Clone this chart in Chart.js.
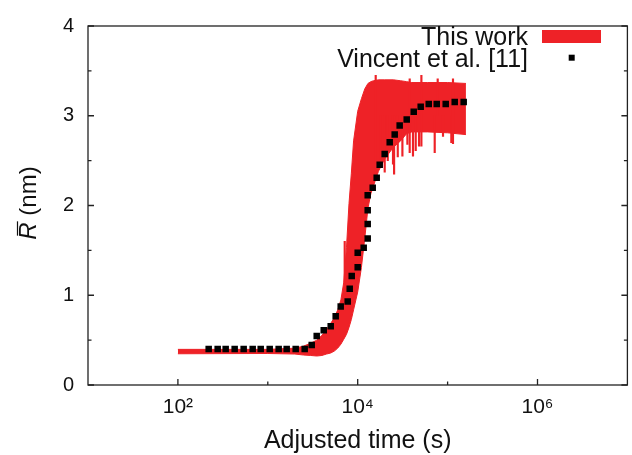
<!DOCTYPE html>
<html><head><meta charset="utf-8">
<script src="https://cdn.jsdelivr.net/npm/chart.js@4.4.0/dist/chart.umd.min.js"></script>
<style>html,body{margin:0;padding:0;background:#fff;} #wrap{width:632px;height:455px;position:relative;}</style>
</head><body><div id="wrap"><canvas id="c" width="632" height="455"></canvas></div>
<script>
// ---- Data ----
const seriesNames = ['This work', 'Vincent et al. [11]'];

// "This work": envelope of the noisy simulated curve
const bandTime  = [100, 1000, 2000, 2500, 3000, 3500, 4000, 4500, 5000, 5500, 6000, 6500, 7000, 7500, 8000, 8500, 9000, 10000, 11000, 12000, 13000, 14000, 15000, 17000, 20000, 25000, 30000, 35000, 40000, 60000, 100000, 160000];
const bandUpper = [0.397, 0.397, 0.41, 0.433, 0.466, 0.499, 0.553, 0.619, 0.685, 0.751, 0.838, 0.948, 1.145, 1.529, 2.02, 2.36, 2.72, 3.05, 3.19, 3.30, 3.36, 3.38, 3.39, 3.40, 3.40, 3.40, 3.39, 3.38, 3.37, 3.37, 3.37, 3.36];
const bandLower = [0.348, 0.351, 0.345, 0.334, 0.329, 0.323, 0.329, 0.345, 0.356, 0.378, 0.411, 0.455, 0.51, 0.564, 0.641, 0.73, 0.838, 1.036, 1.31, 1.64, 1.97, 2.13, 2.22, 2.38, 2.52, 2.65, 2.72, 2.80, 2.82, 2.82, 2.81, 2.79];

// "This work": isolated noise spikes
const spikeTime = [7170, 15860, 17890, 19970, 21600, 24700, 25400, 27900, 31420, 35700, 37880, 41200, 44190, 48100, 51100, 71880, 77600, 88900, 110000, 114800];
const spikeLow  = [1.0, 2.35, 2.46, 2.37, 2.50, 2.46, 2.35, 2.54, 2.55, 2.68, 2.59, 2.55, 2.61, 2.66, 2.66, 2.59, 3.0, 2.77, 2.70, 2.69];
const spikeHigh = [1.60, 3.45, 3.0, 3.0, 3.0, 3.0, 3.0, 3.0, 3.0, 3.0, 3.41, 3.0, 3.0, 3.0, 3.45, 3.0, 3.41, 3.0, 3.0, 3.41];

// Vincent et al. [11]
const vincentTime = [220, 277, 340, 428, 539, 679, 834, 1050, 1321, 1622, 2043, 2572, 3080, 3500, 4190, 5010, 5690, 6470, 7740, 8150, 8580, 10000, 10000, 11660, 12920, 12920, 12920, 12920, 14690, 16270, 17570, 19960, 22700, 25800, 29300, 35100, 42000, 50200, 61700, 75700, 95300, 120000, 151000];
const vincentR = [0.40, 0.40, 0.40, 0.40, 0.40, 0.40, 0.40, 0.40, 0.40, 0.40, 0.40, 0.40, 0.447, 0.546, 0.611, 0.655, 0.765, 0.875, 0.929, 1.072, 1.214, 1.313, 1.474, 1.529, 1.631, 1.795, 1.948, 2.113, 2.197, 2.310, 2.453, 2.573, 2.705, 2.792, 2.891, 2.957, 3.044, 3.099, 3.132, 3.132, 3.132, 3.154, 3.154];

// Axes
const xTickValues = [100, 10000, 1000000];
const xTickLabels = ['10\u00B2', '10\u2074', '10\u2076'];
const xMinorTicks = [1000, 100000];
const yTickValues = [0, 1, 2, 3, 4];
const yMinorTicks = [0.5, 1.5, 2.5, 3.5];
const xTitle = 'Adjusted time (s)';
const yTitleSymbol = 'R';
const yTitleUnit = ' (nm)';

// ---- Styling ----
const RED = '#ee2227';
const INK = '#111111';
const FONT = '"Liberation Sans", Arial, Helvetica, sans-serif';

const framePlugin = {
  id: 'frame',
  afterDatasetsDraw(chart) {
    const {ctx, chartArea: a, scales: {x, y}} = chart;
    ctx.save();
    ctx.strokeStyle = '#222';
    ctx.lineWidth = 1.3;
    ctx.strokeRect(a.left, a.top, a.right - a.left, a.bottom - a.top);
    ctx.beginPath();
    yTickValues.forEach(v => {
      const p = y.getPixelForValue(v);
      ctx.moveTo(a.left, p); ctx.lineTo(a.left + 6, p);
      ctx.moveTo(a.right, p); ctx.lineTo(a.right - 6, p);
    });
    yMinorTicks.forEach(v => {
      const p = y.getPixelForValue(v);
      ctx.moveTo(a.left, p); ctx.lineTo(a.left + 3.5, p);
      ctx.moveTo(a.right, p); ctx.lineTo(a.right - 3.5, p);
    });
    xTickValues.forEach(v => {
      const p = x.getPixelForValue(v);
      ctx.moveTo(p, a.bottom); ctx.lineTo(p, a.bottom - 6);
    });
    xMinorTicks.forEach(v => {
      const p = x.getPixelForValue(v);
      ctx.moveTo(p, a.bottom); ctx.lineTo(p, a.bottom - 3.5);
    });
    ctx.stroke();
    ctx.restore();
  }
};

const legendPlugin = {
  id: 'gpLegend',
  afterDraw(chart) {
    const ctx = chart.ctx;
    ctx.save();
    ctx.font = '25px ' + FONT;
    ctx.fillStyle = INK;
    ctx.textAlign = 'right';
    ctx.textBaseline = 'alphabetic';
    ctx.fillText(seriesNames[0], 528, 45);
    ctx.fillText(seriesNames[1], 528, 66.7);
    ctx.fillStyle = RED;
    ctx.fillRect(542, 30, 59, 13);
    ctx.fillStyle = '#000';
    ctx.fillRect(568.7, 54.7, 6, 6);
    ctx.restore();
  }
};

const yTitlePlugin = {
  id: 'yTitle',
  afterDraw(chart) {
    const ctx = chart.ctx;
    ctx.save();
    ctx.translate(29, 203);
    ctx.rotate(-Math.PI / 2);
    ctx.fillStyle = INK;
    ctx.textBaseline = 'middle';
    ctx.textAlign = 'left';
    const fi = 'italic 24px ' + FONT, fn = '24px ' + FONT;
    ctx.font = fi; const w1 = ctx.measureText(yTitleSymbol).width;
    ctx.font = fn; const w2 = ctx.measureText(yTitleUnit).width;
    const x0 = -(w1 + w2) / 2;
    ctx.font = fi; ctx.fillText(yTitleSymbol, x0, 0);
    ctx.strokeStyle = INK; ctx.lineWidth = 1.2;
    ctx.beginPath(); ctx.moveTo(x0 + 4, -11.5); ctx.lineTo(x0 + w1 + 1, -11.5); ctx.stroke();
    ctx.font = fn; ctx.fillText(yTitleUnit, x0 + w1, 0);
    ctx.restore();
  }
};

new Chart(document.getElementById('c'), {
  type: 'line',
  data: {
    datasets: [
      { label: seriesNames[0], data: bandTime.map((t, i) => ({x: t, y: bandUpper[i]})),
        borderColor: RED, backgroundColor: RED, borderWidth: 1, pointRadius: 0, fill: '+1', tension: 0, order: 3 },
      { label: seriesNames[0] + ' (lower)', data: bandTime.map((t, i) => ({x: t, y: bandLower[i]})),
        borderColor: RED, backgroundColor: RED, borderWidth: 1, pointRadius: 0, fill: false, tension: 0, order: 3 },
      { type: 'bar', label: seriesNames[0] + ' (spikes)', data: spikeTime.map((t, i) => ({x: t, y: [spikeLow[i], spikeHigh[i]]})),
        backgroundColor: RED, borderWidth: 0, barThickness: 1.5, order: 2 },
      { label: seriesNames[1], data: vincentTime.map((t, i) => ({x: t, y: vincentR[i]})),
        showLine: false, pointStyle: 'rect', pointRadius: 4.6, pointBackgroundColor: '#000', pointBorderWidth: 0, borderColor: '#000', order: 1 }
    ]
  },
  options: {
    responsive: false, animation: false, devicePixelRatio: 1,
    layout: {padding: {left: 0, top: 19, right: 4, bottom: 0}},
    plugins: {legend: {display: false}, tooltip: {enabled: false}},
    scales: {
      x: {
        type: 'logarithmic', min: 10, max: 1e7, offset: false, position: 'bottom',
        grid: {display: false, drawTicks: false}, border: {display: false},
        afterBuildTicks: s => { s.ticks = xTickValues.map(v => ({value: v})); },
        ticks: {autoSkip: false, maxRotation: 0, padding: 10, color: INK, font: {family: FONT, size: 21},
          callback: (v) => { const i = xTickValues.indexOf(v); return i >= 0 ? xTickLabels[i] : ''; }},
        title: {display: true, text: xTitle, color: INK, font: {family: FONT, size: 25, lineHeight: 1.1}, padding: {top: 0, bottom: 0}},
        afterFit: s => { s.height = 70; }
      },
      y: {
        min: 0, max: 4,
        grid: {display: false, drawTicks: false}, border: {display: false},
        afterBuildTicks: s => { s.ticks = yTickValues.map(v => ({value: v})); },
        ticks: {padding: 14, color: INK, font: {family: FONT, size: 20}},
        afterFit: s => { s.width = 88; }
      }
    }
  },
  plugins: [framePlugin, legendPlugin, yTitlePlugin]
});
</script>
</body></html>
